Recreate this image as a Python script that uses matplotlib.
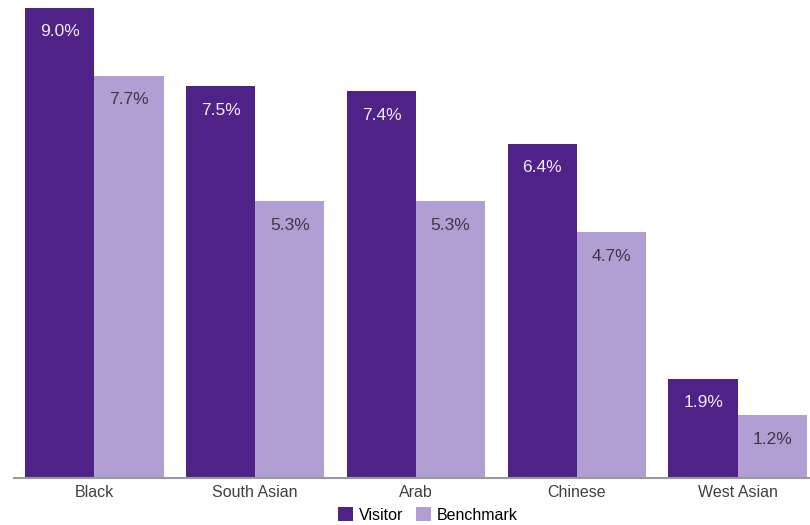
import matplotlib
matplotlib.use("Agg")
import matplotlib.pyplot as plt
import numpy as np

categories = ["Black", "South Asian", "Arab", "Chinese", "West Asian"]
visitor = [9.0, 7.5, 7.4, 6.4, 1.9]
benchmark = [7.7, 5.3, 5.3, 4.7, 1.2]

plt.rcParams['font.family'] = ['Liberation Sans', 'DejaVu Sans']

fig = plt.figure(figsize=(8.1, 5.25), dpi=100)
ax = fig.add_axes([0.0173, 0.0895, 0.9827, 0.8955])

x = np.arange(len(categories))
w = 0.43
b1 = ax.bar(x - w / 2, visitor, w, color="#4e2287", label="Visitor")
b2 = ax.bar(x + w / 2, benchmark, w, color="#b19fd3", label="Benchmark")

for bar, v in zip(b1, visitor):
    ax.annotate(f"{v:.1f}%", (bar.get_x() + bar.get_width() / 2, v),
                xytext=(0, -24), textcoords="offset pixels",
                ha="center", va="center", fontsize=12.5, color="#f2ecf7")
for bar, v in zip(b2, benchmark):
    ax.annotate(f"{v:.1f}%", (bar.get_x() + bar.get_width() / 2, v),
                xytext=(0, -24), textcoords="offset pixels",
                ha="center", va="center", fontsize=12.5, color="#3c3848")

ax.set_xlim(-0.5, 4.45)
ax.set_ylim(0, 9.0)
ax.set_xticks(x)
ax.set_xticklabels(categories, fontsize=11.5, color="#404040")
ax.tick_params(axis="x", length=0, pad=5)
ax.set_yticks([])
for s in ["top", "right", "left"]:
    ax.spines[s].set_visible(False)
ax.spines["bottom"].set_color("#999999")
ax.spines["bottom"].set_linewidth(1.5)

fig.legend(loc="center", bbox_to_anchor=(428 / 810, 1 - 515 / 525), ncol=2,
           frameon=False, fontsize=11.5, handlelength=0.9, handleheight=0.9,
           handletextpad=0.4, columnspacing=0.8, borderpad=0)

fig.savefig("out.png", dpi=100)
